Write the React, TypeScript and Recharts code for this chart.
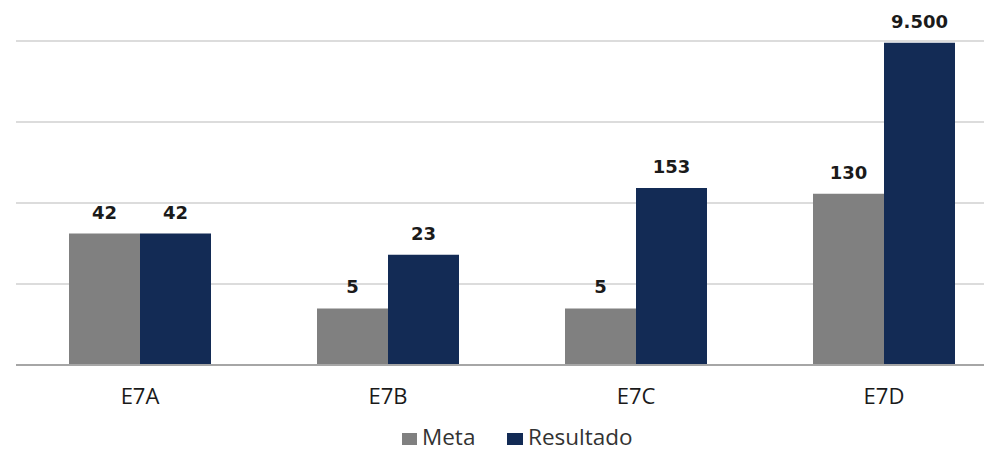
import { BarChart, Bar, XAxis, YAxis, CartesianGrid, LabelList } from "recharts"

const categories = ['E7A', 'E7B', 'E7C', 'E7D']
const meta = [42, 5, 5, 130]
const resultado = [42, 23, 153, 9500]
const yTicks = [1, 10, 100, 1000, 10000]
const seriesNames = ['Meta', 'Resultado']

const data = categories.map((name, i) => ({ name, meta: meta[i], resultado: resultado[i] }))

const GRAY = '#808080'
const NAVY = '#132b55'
const fmt = (v: any) => Number(v).toLocaleString('de-DE')

const labelStyle = { fontFamily: 'DejaVu Sans', fontWeight: 'bold', fontSize: 18, fill: '#1a1a1a' }
const legendText = { position: 'absolute' as const, top: 427, fontFamily: 'Open Sans', fontSize: 22.5, lineHeight: '20px', color: '#333', whiteSpace: 'nowrap' as const }

export default function App() {
  return (
    <div style={{ position: 'fixed', left: 0, top: 0, width: 984, height: 453, overflow: 'hidden', background: '#fff' }}>
      <BarChart
        width={1010}
        height={453}
        data={data}
        margin={{ top: 41, right: 2, left: 16, bottom: 58 }}
        barCategoryGap={53}
        barGap={0}
      >
        <CartesianGrid horizontal vertical={false} stroke="#d0d0d0" strokeWidth={1.5} />
        <YAxis hide scale="log" domain={[1, 10000]} ticks={yTicks} allowDataOverflow />
        <XAxis
          dataKey="name"
          tickLine={false}
          tickSize={0}
          tickMargin={23}
          axisLine={{ stroke: '#a6a6a6', strokeWidth: 2 }}
          tick={{ fontFamily: 'Open Sans', fontSize: 22, fill: '#1a1a1a' }}
        />
        <Bar dataKey="meta" name={seriesNames[0]} fill={GRAY} isAnimationActive={false}>
          <LabelList dataKey="meta" position="top" offset={15} formatter={fmt} style={labelStyle} />
        </Bar>
        <Bar dataKey="resultado" name={seriesNames[1]} fill={NAVY} isAnimationActive={false}>
          <LabelList dataKey="resultado" position="top" offset={15} formatter={fmt} style={labelStyle} />
        </Bar>
      </BarChart>
      {/* legend */}
      <span style={{ position: 'absolute', left: 402, top: 433, width: 15, height: 12, background: GRAY }} />
      <span style={{ ...legendText, left: 422 }}>{seriesNames[0]}</span>
      <span style={{ position: 'absolute', left: 507, top: 433, width: 16, height: 12, background: NAVY }} />
      <span style={{ ...legendText, left: 528 }}>{seriesNames[1]}</span>
    </div>
  )
}
